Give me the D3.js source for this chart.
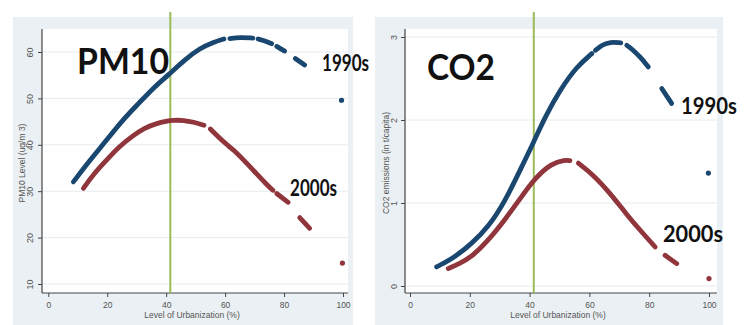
<!DOCTYPE html>
<html>
<head>
<meta charset="utf-8">
<script src="https://cdn.jsdelivr.net/npm/d3@7"></script>
<style>
  html, body { margin: 0; padding: 0; background: #ffffff; }
  svg { display: block; }
</style>
</head>
<body>
<svg id="chart" width="745" height="325"></svg>
<script>
// ---------------- DATA ----------------
const urbanTicks = [0, 20, 40, 60, 80, 100];
const pm10Ticks = [10, 20, 30, 40, 50, 60];
const co2Ticks = [0, 1, 2, 3];
const urbanThreshold = 41.4;

// fitted values, split where the scatter shows gaps: [urbanization %, value]
const pm10_1990s = [
  [[8.5,32.0],[14,36.6],[19.8,41.0],[25,45.2],[31.1,49.2],[36,52.5],[40.7,55.0],[46,58.2],[51.4,60.8],[56,62.1],[59.6,62.8]],
  [[61.6,62.9],[65,63.2],[69.4,63.0]],
  [[71.2,62.8],[73.5,62.4],[75.8,61.8]],
  [[77.5,61.2],[80.2,60.2]],
  [[83.8,58.6],[87,57.2]],
  [[99.5,49.6]]
];
const pm10_2000s = [
  [[11.9,30.6],[15.5,33.8],[19.8,36.7],[24,39.6],[28.8,42.0],[32.5,43.6],[36.7,44.6],[40,45.1],[42.4,45.3],[46,45.3],[49.2,44.9],[52.8,44.2]],
  [[55,43.4],[60,40.3],[62.7,39.0],[66.5,36.6],[70.6,33.8],[74,31.5],[76.2,30.2]],
  [[77.5,29.5],[81.4,27.6]],
  [[85.3,24.3],[88.7,22.0]],
  [[99.8,14.5]]
];
const co2_1990s = [
  [[8.9,0.23],[15.1,0.35],[20.6,0.51],[26.2,0.71],[31.8,1.02],[37.4,1.44],[41.2,1.72],[45.2,2.04],[50.5,2.38],[55.7,2.64],[60.8,2.80]],
  [[62,2.84],[64.5,2.91],[66.9,2.94],[70.5,2.93]],
  [[72.5,2.90],[74.1,2.86],[77,2.76],[79.7,2.64]],
  [[84.2,2.38],[87.5,2.20]],
  [[99.8,1.36]]
];
const co2_2000s = [
  [[12.8,0.21],[16.5,0.27],[20.6,0.35],[26.2,0.55],[31.8,0.80],[37.4,1.08],[41.8,1.30],[47.4,1.48],[51.8,1.52],[53.5,1.51]],
  [[56.3,1.48],[61.3,1.34],[66.9,1.12],[72.5,0.86],[77.0,0.67],[82.0,0.47]],
  [[85.3,0.37],[89.2,0.27]],
  [[100,0.09]]
];

const panels = [
  {
    title: "PM10", yTitle: "PM10 Level (ug/m 3)", yTicks: pm10Ticks,
    s1990: pm10_1990s, s2000: pm10_2000s,
    bg: [13, 17, 353, 325], plot: [42, 29, 348, 293],
    xr: [48.3, 343], xd: [0, 100], yr: [284, 52], yd: [10, 60],
    yLabelX: 30, yTitleX: 22,
    titlePos: [77, 74, 92, 36],
    lab1990: [322, 71, 47], lab2000: [290, 196, 47]
  },
  {
    title: "CO2", yTitle: "CO2 emissions (in t/capita)", yTicks: co2Ticks,
    s1990: co2_1990s, s2000: co2_2000s,
    bg: [375, 17, 723, 325], plot: [405, 29, 717, 293],
    xr: [410, 709], xd: [0, 100], yr: [286, 37], yd: [0, 3],
    yLabelX: 394, yTitleX: 386,
    titlePos: [427, 80, 68, 36],
    lab1990: [681, 114, 56], lab2000: [663, 242, 60]
  }
];

const BLUE = "#1a476f", RED = "#90353b", GREEN = "#9bbb59";
const svg = d3.select("#chart");

panels.forEach(p => {
  const g = svg.append("g");
  const x = d3.scaleLinear().domain(p.xd).range(p.xr);
  const y = d3.scaleLinear().domain(p.yd).range(p.yr);
  const [px0, py0, px1, py1] = p.plot;

  // backgrounds
  g.append("rect").attr("x", p.bg[0]).attr("y", p.bg[1])
    .attr("width", p.bg[2] - p.bg[0]).attr("height", p.bg[3] - p.bg[1])
    .attr("fill", "#eaf0f3");
  g.append("rect").attr("x", px0).attr("y", py0)
    .attr("width", px1 - px0).attr("height", py1 - py0)
    .attr("fill", "#ffffff");

  // gridlines
  g.selectAll(".grid").data(p.yTicks).enter().append("line")
    .attr("x1", px0).attr("x2", px1)
    .attr("y1", d => y(d)).attr("y2", d => y(d))
    .attr("stroke", "#e4ecef").attr("stroke-width", 1);

  // y axis
  const ya = g.append("g").attr("transform", `translate(${px0},0)`)
    .call(d3.axisLeft(y).tickValues(p.yTicks).tickFormat(d3.format("d")).tickSize(4).tickSizeOuter(0));
  ya.select(".domain").remove();
  ya.selectAll(".tick line").attr("stroke", "#444");
  ya.selectAll(".tick text")
    .attr("transform", "rotate(-90)")
    .attr("x", 0).attr("y", -(px0 - p.yLabelX)).attr("dy", "0.35em")
    .attr("text-anchor", "middle")
    .attr("font-family", "Liberation Sans, Arial, sans-serif")
    .attr("font-size", 9).attr("fill", "#555");
  g.append("line").attr("x1", px0).attr("x2", px0).attr("y1", py0).attr("y2", py1)
    .attr("stroke", "#444").attr("stroke-width", 1.2);

  // x axis
  const xa = g.append("g").attr("transform", `translate(0,${py1})`)
    .call(d3.axisBottom(x).tickValues(urbanTicks).tickFormat(d3.format("d")).tickSize(4).tickPadding(5).tickSizeOuter(0));
  xa.select(".domain").remove();
  xa.selectAll(".tick line").attr("stroke", "#444");
  xa.selectAll(".tick text")
    .attr("font-family", "Liberation Sans, Arial, sans-serif")
    .attr("font-size", 8.5).attr("fill", "#555");
  g.append("line").attr("x1", px0).attr("x2", px1).attr("y1", py1).attr("y2", py1)
    .attr("stroke", "#444").attr("stroke-width", 1.2);

  // axis titles
  g.append("text").attr("x", (px0 + px1) / 2 - 3).attr("y", 318)
    .attr("text-anchor", "middle")
    .attr("font-family", "Liberation Sans, Arial, sans-serif")
    .attr("font-size", 8.5).attr("fill", "#555")
    .text("Level of Urbanization (%)");
  g.append("text")
    .attr("transform", `translate(${p.yTitleX},${(py0 + py1) / 2 + 2}) rotate(-90)`)
    .attr("text-anchor", "middle").attr("dy", "0.35em")
    .attr("font-family", "Liberation Sans, Arial, sans-serif")
    .attr("font-size", 8.5).attr("fill", "#555")
    .text(p.yTitle);

  // threshold line
  g.append("line").attr("x1", x(urbanThreshold)).attr("x2", x(urbanThreshold))
    .attr("y1", 12).attr("y2", py1)
    .attr("stroke", GREEN).attr("stroke-width", 2);

  // curves
  const line = d3.line().x(d => x(d[0])).y(d => y(d[1])).curve(d3.curveBasis);
  [[p.s1990, BLUE], [p.s2000, RED]].forEach(([segs, col]) => {
    segs.forEach(seg => {
      if (seg.length === 1) {
        g.append("circle").attr("cx", x(seg[0][0])).attr("cy", y(seg[0][1]))
          .attr("r", 2.6).attr("fill", col);
      } else {
        g.append("path").datum(seg).attr("d", line)
          .attr("fill", "none").attr("stroke", col)
          .attr("stroke-width", 4.8).attr("stroke-linecap", "round");
      }
    });
  });

  // big title
  g.append("text").attr("x", p.titlePos[0]).attr("y", p.titlePos[1])
    .attr("font-family", "Lato, 'Open Sans', sans-serif").attr("font-weight", 700)
    .attr("font-size", p.titlePos[3]).attr("fill", "#111")
    .attr("textLength", p.titlePos[2]).attr("lengthAdjust", "spacingAndGlyphs")
    .text(p.title);
  // series labels
  [["1990s", p.lab1990], ["2000s", p.lab2000]].forEach(([t, pos]) => {
    g.append("text").attr("x", pos[0]).attr("y", pos[1])
      .attr("font-family", "Lato, 'Open Sans', sans-serif").attr("font-weight", 700)
      .attr("font-size", 23).attr("fill", "#111")
      .attr("textLength", pos[2]).attr("lengthAdjust", "spacingAndGlyphs")
      .text(t);
  });
});
</script>
</body>
</html>
